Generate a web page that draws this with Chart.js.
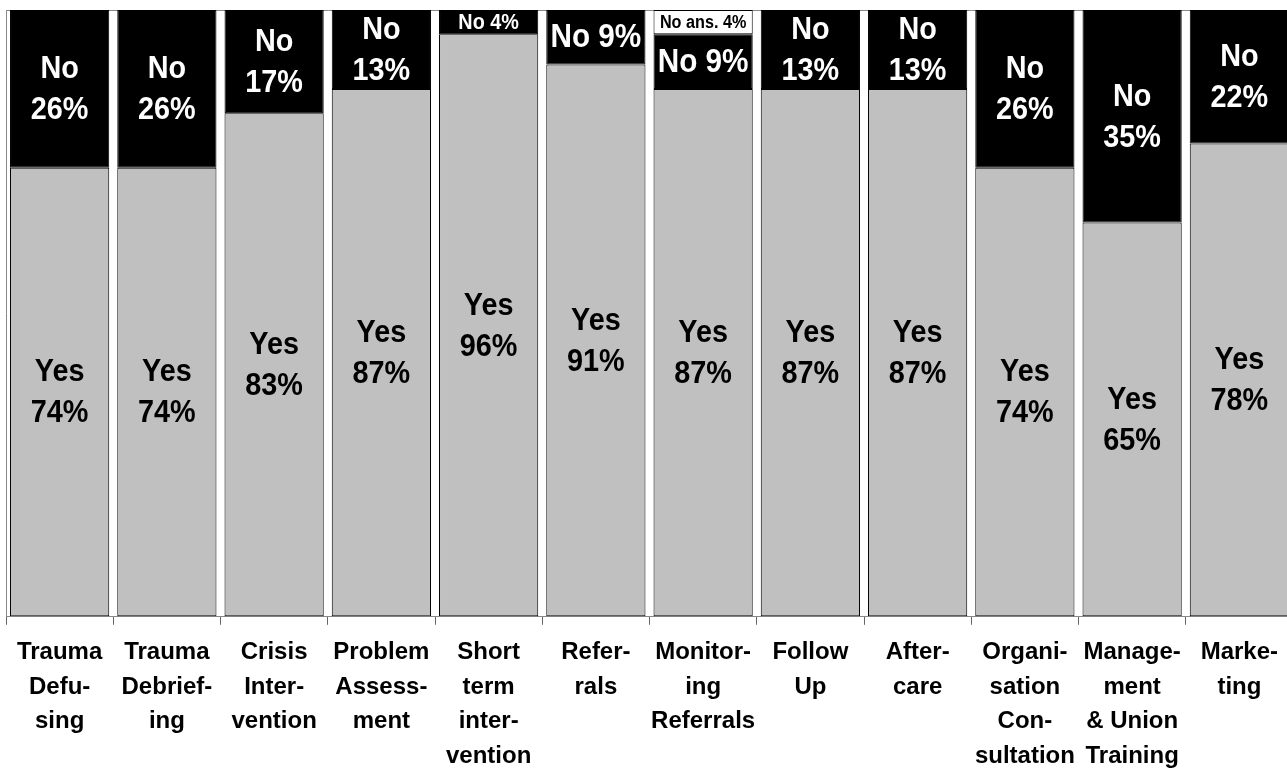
<!DOCTYPE html>
<html>
<head>
<meta charset="utf-8">
<script src="https://cdn.jsdelivr.net/npm/chart.js@4.4.1/dist/chart.umd.min.js"></script>
<style>
  html, body { margin: 0; padding: 0; background: #fff; overflow: hidden; }
  #wrap { width: 1293px; height: 776px; }
</style>
</head>
<body>
<div id="wrap"><canvas id="chart"></canvas></div>
<script>
// Services and the share of answers for each one
const services = [
  ["Trauma", "Defu-", "sing"],
  ["Trauma", "Debrief-", "ing"],
  ["Crisis", "Inter-", "vention"],
  ["Problem", "Assess-", "ment"],
  ["Short", "term", "inter-", "vention"],
  ["Refer-", "rals"],
  ["Monitor-", "ing", "Referrals"],
  ["Follow", "Up"],
  ["After-", "care"],
  ["Organi-", "sation", "Con-", "sultation"],
  ["Manage-", "ment", "& Union", "Training"],
  ["Marke-", "ting"],
];
const yesValues = [74, 74, 83, 87, 96, 91, 87, 87, 87, 74, 65, 78];
const noValues = [26, 26, 17, 13, 4, 9, 9, 13, 13, 26, 35, 22];
const noAnswerValues = [0, 0, 0, 0, 0, 0, 4, 0, 0, 0, 0, 0];

const FONT = "'Liberation Sans', Arial, sans-serif";

// Writes the value labels inside each bar segment
const segmentLabels = {
  id: "segmentLabels",
  afterDatasetsDraw(chart) {
    const ctx = chart.ctx;
    chart.data.datasets.forEach((ds, i) => {
      const meta = chart.getDatasetMeta(i);
      meta.data.forEach((bar, j) => {
        const v = ds.data[j];
        if (!v) return;
        const cx = bar.x;
        const cy = (bar.y + bar.base) / 2;
        let lines, size;
        if (ds.label === "No ans.") {
          lines = ["No ans. " + v + "%"];
          size = 18;
        } else if (v < 5) {
          lines = [ds.label + " " + v + "%"];
          size = 22;
        } else if (v < 10) {
          lines = [ds.label + " " + v + "%"];
          size = 33;
        } else {
          lines = [ds.label, v + "%"];
          size = 32;
        }
        ctx.save();
        ctx.fillStyle = ds.textColor;
        ctx.font = "bold " + size + "px " + FONT;
        ctx.textAlign = "center";
        ctx.textBaseline = "middle";
        const step = 41;
        lines.forEach((t, k) => {
          const y = cy + (k - (lines.length - 1) / 2) * step;
          ctx.save();
          ctx.translate(cx, y);
          ctx.scale(0.9, 1);
          ctx.fillText(t, 0, 1);
          ctx.restore();
        });
        ctx.restore();
      });
    });
  },
};

const ctx = document.getElementById("chart").getContext("2d");
new Chart(ctx, {
  type: "bar",
  data: {
    labels: services,
    datasets: [
      {
        label: "Yes",
        data: yesValues,
        backgroundColor: "#c0c0c0",
        borderColor: "#000",
        textColor: "#000",
      },
      {
        label: "No",
        data: noValues,
        backgroundColor: "#000",
        borderColor: "#000",
        textColor: "#fff",
      },
      {
        label: "No ans.",
        data: noAnswerValues,
        backgroundColor: "#fff",
        borderColor: "#000",
        textColor: "#000",
      },
    ],
  },
  options: {
    responsive: true,
    maintainAspectRatio: false,
    animation: false,
    layout: { padding: { top: 10, left: 6, right: 0, bottom: -8 } },
    datasets: {
      bar: {
        borderWidth: 1,
        borderSkipped: false,
        barPercentage: 0.925,
        categoryPercentage: 1,
      },
    },
    plugins: {
      legend: { display: false },
      tooltip: { enabled: false },
    },
    scales: {
      x: {
        stacked: true,
        border: { color: "#888", width: 1 },
        grid: {
          offset: true,
          drawOnChartArea: false,
          tickLength: 8,
          color: "#666",
        },
        ticks: {
          autoSkip: false,
          maxRotation: 0,
          minRotation: 0,
          padding: 10,
          color: "#000",
          font: { family: FONT, size: 24, weight: "bold", lineHeight: 1.45 },
        },
      },
      y: {
        stacked: true,
        min: 0,
        max: 100,
        border: { color: "#888", width: 1 },
        grid: {
          drawTicks: false,
          color: (c) => (c.tick && c.tick.value === 100 ? "#888" : "rgba(0,0,0,0)"),
        },
        ticks: { display: false, stepSize: 100 },
      },
    },
  },
  plugins: [segmentLabels],
});
</script>
</body>
</html>
